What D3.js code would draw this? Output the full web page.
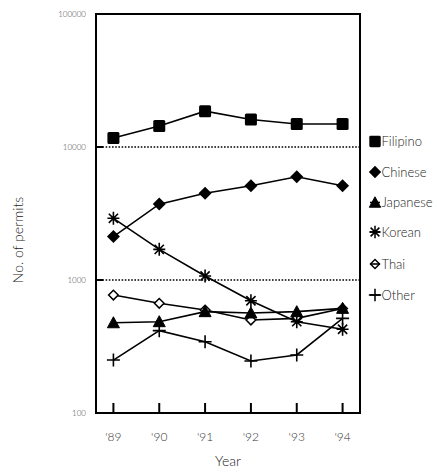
<!DOCTYPE html>
<html>
<head>
<meta charset="utf-8">
<script src="https://cdn.jsdelivr.net/npm/d3@7"></script>
<style>
  body { margin: 0; background: #fff; }
  text { font-family: Lato, "Open Sans", sans-serif; font-weight: 300; }
</style>
</head>
<body>
<svg id="chart" width="437" height="472"></svg>
<script>
// data
var years = ["'89", "'90", "'91", "'92", "'93", "'94"];
var yTicks = [100, 1000, 10000, 100000];
var filipino = [11700, 14400, 18600, 16100, 14900, 14900];
var chinese = [2120, 3720, 4490, 5120, 5980, 5120];
var japanese = [477, 486, 578, 565, 578, 612];
var korean = [2910, 1700, 1072, 698, 486, 426];
var thai = [771, 668, 595, 500, 515, 610];
var other = [250, 416, 343, 246, 273, 515];

var series = [
  { name: "Filipino", values: filipino, marker: "square" },
  { name: "Chinese", values: chinese, marker: "diamond" },
  { name: "Japanese", values: japanese, marker: "triangle" },
  { name: "Korean", values: korean, marker: "star" },
  { name: "Thai", values: thai, marker: "opendiamond" },
  { name: "Other", values: other, marker: "plus" }
];

var svg = d3.select("#chart");
var plotL = 96, plotR = 360, plotT = 14, plotB = 413;

var x = d3.scalePoint().domain(years).range([plotL, plotR]).padding(0.38);
var y = d3.scaleLog().domain([100, 100000]).range([plotB, plotT]);

// draws one marker centred at 0,0
function drawMarker(g, kind) {
  if (kind === "square") {
    g.append("rect").attr("x", -6).attr("y", -6).attr("width", 12).attr("height", 12)
      .attr("rx", 1.5).attr("fill", "#000");
  } else if (kind === "diamond") {
    g.append("path").attr("d", "M0,-6.5L6.5,0L0,6.5L-6.5,0Z").attr("fill", "#000");
  } else if (kind === "triangle") {
    g.append("path").attr("d", "M0,-6L6,5L-6,5Z").attr("fill", "#000")
      .attr("stroke", "#000").attr("stroke-width", 1).attr("stroke-linejoin", "round");
  } else if (kind === "star") {
    g.append("path")
      .attr("d", "M-6,0H6M0,-6.5V6.5M-4.6,-4.6L4.6,4.6M-4.6,4.6L4.6,-4.6")
      .attr("stroke", "#000").attr("stroke-width", 1.6).attr("fill", "none");
  } else if (kind === "opendiamond") {
    g.append("path").attr("d", "M0,-4.8L4.8,0L0,4.8L-4.8,0Z")
      .attr("fill", "#fff").attr("stroke", "#000").attr("stroke-width", 1.5);
  } else if (kind === "plus") {
    g.append("path").attr("d", "M-6.5,0H6.5M0,-6.5V6.5")
      .attr("stroke", "#000").attr("stroke-width", 1.6).attr("fill", "none");
  }
}

// dotted gridlines
svg.selectAll(".grid").data([1000, 10000]).enter().append("line")
  .attr("x1", plotL).attr("x2", plotR)
  .attr("y1", function (d) { return y(d); }).attr("y2", function (d) { return y(d); })
  .attr("stroke", "#000").attr("stroke-width", 1.6).attr("stroke-dasharray", "1.6,1.6");

// y axis labels and inner ticks
svg.selectAll(".ylab").data(yTicks).enter().append("text")
  .attr("x", 86).attr("y", function (d) { return y(d) + 3; })
  .attr("text-anchor", "end").attr("font-size", 8).attr("fill", "#444")
  .text(function (d) { return d; });
svg.selectAll(".ytick").data(yTicks).enter().append("line")
  .attr("x1", plotL).attr("x2", plotL + 7)
  .attr("y1", function (d) { return y(d); }).attr("y2", function (d) { return y(d); })
  .attr("stroke", "#000").attr("stroke-width", 2);

// x axis ticks and labels
svg.selectAll(".xtick").data(years).enter().append("line")
  .attr("x1", function (d) { return x(d); }).attr("x2", function (d) { return x(d); })
  .attr("y1", plotB - 10).attr("y2", plotB)
  .attr("stroke", "#000").attr("stroke-width", 2);
svg.selectAll(".xlab").data(years).enter().append("text")
  .attr("x", function (d) { return x(d); }).attr("y", 441)
  .attr("text-anchor", "middle").attr("font-size", 12).attr("fill", "#333")
  .text(function (d) { return d; });

// frame
svg.append("rect").attr("x", plotL).attr("y", plotT)
  .attr("width", plotR - plotL).attr("height", plotB - plotT)
  .attr("fill", "none").attr("stroke", "#000").attr("stroke-width", 2);

// lines and markers
var line = d3.line()
  .x(function (d, i) { return x(years[i]); })
  .y(function (d) { return y(d); });

series.forEach(function (s) {
  svg.append("path").attr("d", line(s.values))
    .attr("fill", "none").attr("stroke", "#000").attr("stroke-width", 1.6);
});
series.slice().reverse().forEach(function (s) {
  s.values.forEach(function (v, i) {
    var g = svg.append("g").attr("transform", "translate(" + x(years[i]) + "," + y(v) + ")");
    drawMarker(g, s.marker);
  });
});

// legend, short line drawn through each marker like the original
var legendY = [141.5, 172, 202.5, 232, 264, 295];
series.forEach(function (s, i) {
  var g = svg.append("g").attr("transform", "translate(" + 375 + "," + legendY[i] + ")");
  var m = g.append("g").attr("transform", "scale(0.95)");
  drawMarker(m, s.marker);
  g.append("line").attr("x1", -5).attr("x2", 5).attr("stroke", "#000").attr("stroke-width", 1.6);
  g.append("text").attr("x", 6.5).attr("y", 4.5).attr("font-size", 13).attr("fill", "#222")
    .text(s.name);
});

// axis titles
svg.append("text").attr("x", 228).attr("y", 466).attr("text-anchor", "middle")
  .attr("font-size", 14).attr("fill", "#222").text("Year");
svg.append("text").attr("transform", "translate(23,240) rotate(-90)")
  .attr("text-anchor", "middle").attr("font-size", 14).attr("fill", "#222")
  .text("No. of permits");
</script>
</body>
</html>
